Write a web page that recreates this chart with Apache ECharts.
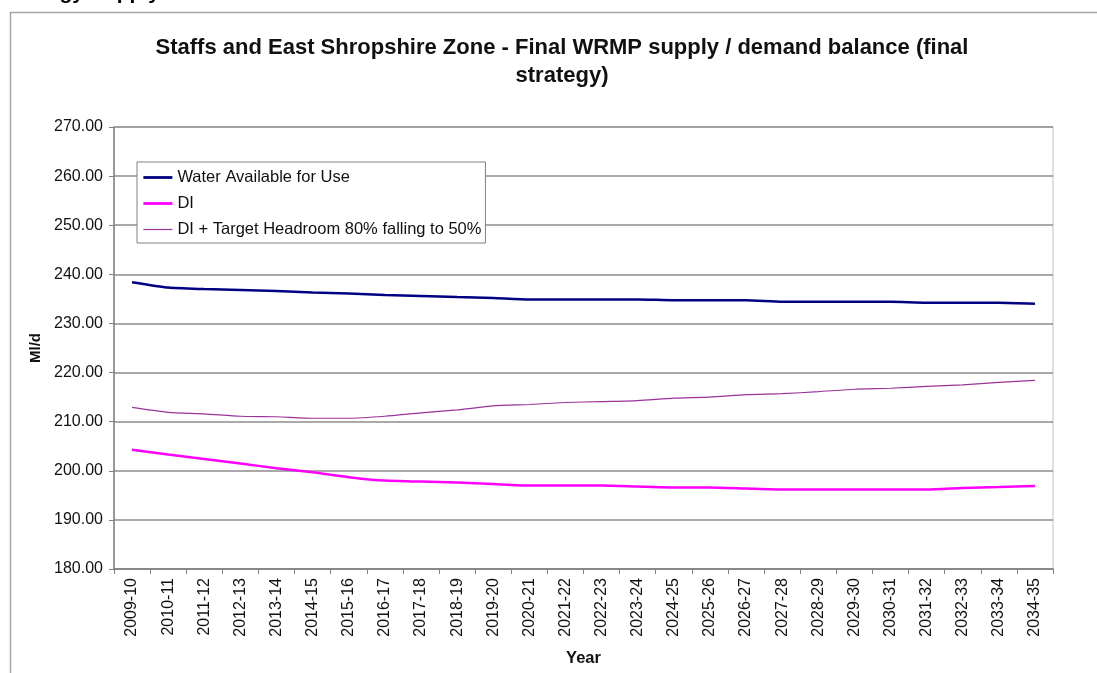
<!DOCTYPE html>
<html>
<head>
<meta charset="utf-8">
<script src="https://cdn.jsdelivr.net/npm/echarts@6/dist/echarts.min.js"></script>
<style>
  html, body { margin: 0; padding: 0; background: #fff; }
  #chart { width: 1097px; height: 673px; }
</style>
</head>
<body>
<div id="chart"></div>
<script>
// categories (financial years)
const years = [
  '2009-10', '2010-11', '2011-12', '2012-13', '2013-14', '2014-15', '2015-16',
  '2016-17', '2017-18', '2018-19', '2019-20', '2020-21', '2021-22', '2022-23',
  '2023-24', '2024-25', '2025-26', '2026-27', '2027-28', '2028-29', '2029-30',
  '2030-31', '2031-32', '2032-33', '2033-34', '2034-35'
]

// Water Available for Use (Ml/d)
const wafu = [
  238.4, 237.3, 237.0, 236.8, 236.6, 236.3, 236.1, 235.8, 235.6, 235.4, 235.2,
  234.9, 234.9, 234.9, 234.9, 234.7, 234.7, 234.7, 234.4, 234.4, 234.4, 234.4,
  234.2, 234.2, 234.2, 234.0
]

// Dry year demand (DI)
const di = [
  204.3, 203.3, 202.4, 201.5, 200.5, 199.7, 198.7, 198.0, 197.8, 197.6, 197.3,
  197.0, 197.0, 197.0, 196.8, 196.6, 196.6, 196.4, 196.2, 196.2, 196.2, 196.2,
  196.2, 196.5, 196.7, 196.9
]

// DI + target headroom
const diHeadroom = [
  212.9, 211.9, 211.6, 211.1, 211.0, 210.7, 210.7, 211.1, 211.8, 212.4, 213.2,
  213.5, 213.9, 214.1, 214.3, 214.8, 215.0, 215.5, 215.7, 216.1, 216.6, 216.8,
  217.2, 217.5, 218.0, 218.4
]

const seriesNames = [
  'Water Available for Use',
  'DI',
  'DI + Target Headroom 80% falling to 50%'
]
const seriesColors = ['#000080', '#ff00ff', '#993399']
const seriesWidths = [2.8, 2.8, 1.2]

const FONT = 'Arial, "Liberation Sans", sans-serif'

const chart = echarts.init(document.getElementById('chart'))

const option = {
  backgroundColor: '#fff',
  animation: false,
  textStyle: { fontFamily: FONT },
  title: {
    text: 'Staffs and East Shropshire Zone - Final WRMP supply / demand balance (final\nstrategy)',
    left: 557,
    top: 29,
    textAlign: 'center',
    textStyle: {
      fontFamily: FONT,
      fontSize: 22,
      fontWeight: 'bold',
      color: '#111',
      lineHeight: 28
    }
  },
  graphic: [
    {
      // cropped page heading and outer chart frame
      type: 'text',
      left: 0,
      top: -17,
      silent: true,
      style: {
        text: 'Strategy Supply/demand balance',
        font: 'bold 21px Arial, "Liberation Sans", sans-serif',
        fill: '#000'
      }
    },
    {
      type: 'rect',
      shape: { x: 10.5, y: 12.5, width: 1200, height: 800 },
      silent: true,
      style: { fill: 'none', stroke: '#a6a6a6', lineWidth: 1.5 }
    }
  ],
  legend: {
    orient: 'vertical',
    left: 137,
    top: 162,
    padding: [7, 4, 5, 5],
    itemWidth: 29,
    itemHeight: 14,
    itemGap: 9,
    itemStyle: { opacity: 0 },
    backgroundColor: '#fff',
    borderColor: '#808080',
    borderWidth: 1,
    borderRadius: 0,
    data: seriesNames.map((name, i) => ({
      name,
      lineStyle: { color: seriesColors[i], width: seriesWidths[i] }
    })),
    textStyle: { fontFamily: FONT, fontSize: 16.5, color: '#111' }
  },
  grid: {
    left: 114,
    right: 44,
    top: 127,
    bottom: 104,
    show: true,
    borderColor: '#c0c0c0',
    borderWidth: 1
  },
  xAxis: {
    type: 'category',
    data: years,
    boundaryGap: true,
    name: 'Year',
    nameLocation: 'middle',
    nameGap: 81,
    nameTextStyle: { fontFamily: FONT, fontSize: 16.5, fontWeight: 'bold', color: '#111' },
    axisLine: { lineStyle: { color: '#808080', width: 1.5 } },
    axisTick: { show: true, length: 5, lineStyle: { color: '#808080' } },
    axisLabel: {
      rotate: 90,
      interval: 0,
      margin: 9,
      fontFamily: FONT,
      fontSize: 16,
      color: '#111'
    },
    splitLine: { show: false }
  },
  yAxis: {
    type: 'value',
    min: 180,
    max: 270,
    interval: 10,
    name: 'Ml/d',
    nameLocation: 'middle',
    nameGap: 70,
    nameTextStyle: { fontFamily: FONT, fontSize: 15, fontWeight: 'bold', color: '#111' },
    axisLine: { show: true, lineStyle: { color: '#808080', width: 1.5 } },
    axisTick: { show: true, length: 5, lineStyle: { color: '#808080' } },
    axisLabel: {
      margin: 11,
      fontFamily: FONT,
      fontSize: 16,
      color: '#111',
      formatter: (v) => v.toFixed(2)
    },
    splitLine: { show: true, lineStyle: { color: '#8c8c8c', width: 1.5 } }
  },
  series: [
    {
      name: seriesNames[0],
      type: 'line',
      symbol: 'none',
      smooth: 0.2,
      lineStyle: { color: seriesColors[0], width: 2.5 },
      itemStyle: { color: seriesColors[0] },
      data: wafu
    },
    {
      name: seriesNames[1],
      type: 'line',
      symbol: 'none',
      smooth: 0.2,
      lineStyle: { color: seriesColors[1], width: 2.5 },
      itemStyle: { color: seriesColors[1] },
      data: di
    },
    {
      name: seriesNames[2],
      type: 'line',
      symbol: 'none',
      smooth: 0.2,
      lineStyle: { color: seriesColors[2], width: 1.2 },
      itemStyle: { color: seriesColors[2] },
      data: diHeadroom
    }
  ]
}

chart.setOption(option)
window.addEventListener('resize', () => chart.resize())
</script>
</body>
</html>
